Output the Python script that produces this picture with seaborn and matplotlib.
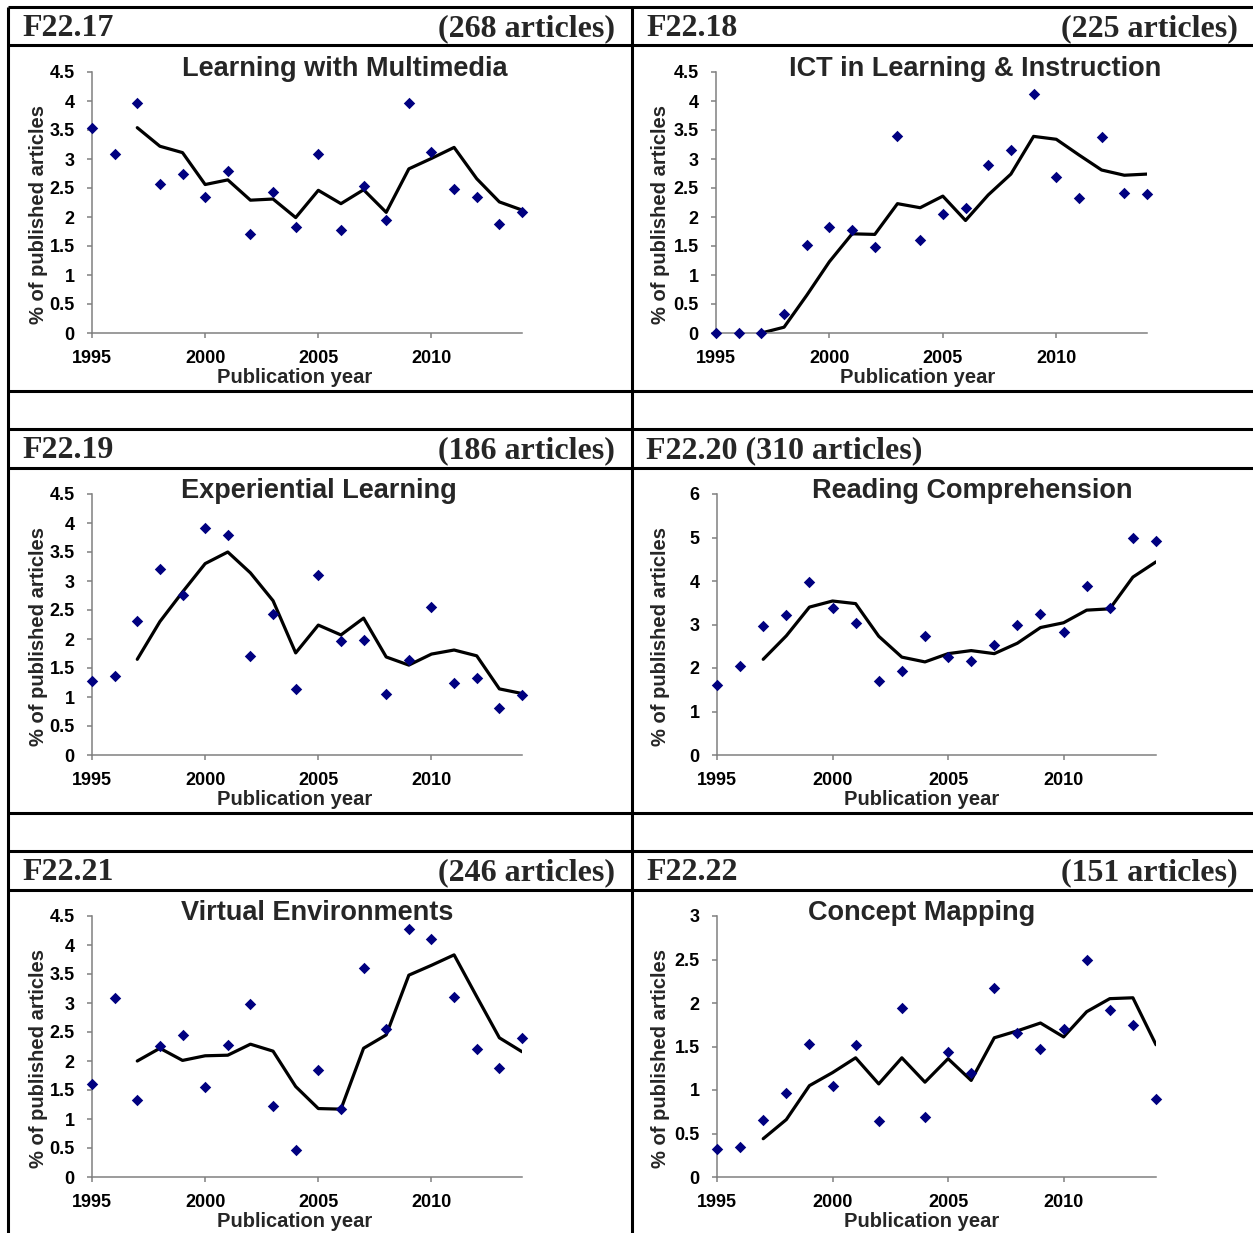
import matplotlib
matplotlib.use("Agg")
import matplotlib.pyplot as plt
from matplotlib.lines import Line2D
from matplotlib.ticker import FixedLocator
import pandas as pd
import seaborn as sns

# ---------------------------------------------------------------- data
years = list(range(1995, 2015))
trend_years = list(range(1997, 2015))

multimedia_pts = [3.53, 3.08, 3.97, 2.57, 2.75, 2.35, 2.79, 1.71, 2.43, 1.83,
                  3.09, 1.77, 2.54, 1.94, 3.97, 3.12, 2.48, 2.35, 1.88, 2.08]
multimedia_avg = [3.54, 3.22, 3.11, 2.56, 2.64, 2.29, 2.31, 1.99, 2.46,
                  2.23, 2.47, 2.08, 2.83, 3.01, 3.20, 2.66, 2.26, 2.12]

ict_pts = [0.00, 0.00, 0.00, 0.32, 1.52, 1.82, 1.78, 1.49, 3.40, 1.60,
           2.06, 2.16, 2.89, 3.15, 4.12, 2.69, 2.32, 3.38, 2.42, 2.39]
ict_avg = [0.00, 0.10, 0.65, 1.23, 1.71, 1.70, 2.23, 2.16, 2.36,
           1.94, 2.38, 2.74, 3.39, 3.34, 3.07, 2.81, 2.72, 2.74]

experiential_pts = [1.28, 1.36, 2.31, 3.21, 2.76, 3.92, 3.80, 1.71, 2.43, 1.14,
                    3.10, 1.97, 1.99, 1.05, 1.63, 2.55, 1.24, 1.33, 0.81, 1.04]
experiential_avg = [1.65, 2.30, 2.81, 3.30, 3.50, 3.14, 2.66, 1.76, 2.24,
                    2.07, 2.36, 1.69, 1.55, 1.74, 1.81, 1.71, 1.14, 1.06]

reading_pts = [1.60, 2.04, 2.97, 3.21, 3.98, 3.39, 3.03, 1.71, 1.94, 2.74,
               2.26, 2.17, 2.52, 3.00, 3.24, 2.83, 3.88, 3.38, 4.98, 4.92]
reading_avg = [2.20, 2.74, 3.40, 3.54, 3.48, 2.73, 2.25, 2.14, 2.33,
               2.40, 2.33, 2.57, 2.93, 3.04, 3.33, 3.36, 4.09, 4.44]

virtual_pts = [1.61, 3.08, 1.32, 2.26, 2.45, 1.56, 2.28, 2.99, 1.22, 0.46,
               1.85, 1.18, 3.61, 2.56, 4.27, 4.11, 3.11, 2.21, 1.88, 2.39]
virtual_avg = [2.00, 2.22, 2.01, 2.09, 2.10, 2.29, 2.17, 1.56, 1.18,
               1.17, 2.22, 2.45, 3.48, 3.65, 3.83, 3.11, 2.40, 2.16]

concept_pts = [0.32, 0.34, 0.66, 0.96, 1.53, 1.05, 1.52, 0.64, 1.94, 0.69,
               1.44, 1.19, 2.17, 1.65, 1.47, 1.70, 2.49, 1.92, 1.75, 0.90]
concept_avg = [0.44, 0.66, 1.05, 1.20, 1.37, 1.07, 1.37, 1.09, 1.36,
               1.11, 1.60, 1.68, 1.77, 1.61, 1.90, 2.05, 2.06, 1.52]

codes = ["F22.17", "F22.18", "F22.19", "F22.20", "F22.21", "F22.22"]
counts = ["(268 articles)", "(225 articles)", "(186 articles)",
          "(310 articles)", "(246 articles)", "(151 articles)"]
titles = ["Learning with Multimedia", "ICT in Learning & Instruction",
          "Experiential Learning", "Reading Comprehension",
          "Virtual Environments", "Concept Mapping"]
point_series = [multimedia_pts, ict_pts, experiential_pts,
                reading_pts, virtual_pts, concept_pts]
trend_series = [multimedia_avg, ict_avg, experiential_avg,
                reading_avg, virtual_avg, concept_avg]
y_max = [4.5, 4.5, 4.5, 6, 4.5, 3]
y_step = [0.5, 0.5, 0.5, 1, 0.5, 0.5]
x_ticks = [1995, 2000, 2005, 2010]
x_label = "Publication year"
y_label = "% of published articles"

# ---------------------------------------------------------------- style
sns.set_theme(style="ticks")
plt.rcParams["font.family"] = ["Liberation Sans", "DejaVu Sans"]

W, H = 1253, 1233
fig = plt.figure(figsize=(W / 100, H / 100), dpi=100)
fig.patch.set_facecolor("white")


def fx(px):
    return px / W


def fy(py):
    return 1 - py / H


AXIS_GREY = "#808080"
MARKER_BLUE = "#000080"

# plot-area geometry in pixels: (left, right, top, bottom)
boxes = [(92, 522, 72, 333), (716, 1147, 72, 333),
         (92, 522, 494, 755), (717, 1156, 494, 755),
         (92, 522, 916, 1177), (717, 1156, 916, 1177)]
title_x = [0.588, 0.601, 0.528, 0.581, 0.523, 0.466]
header_y = [29, 29, 451, 451, 873, 873]

for i in range(6):
    left, right, top, bottom = boxes[i]
    ax = fig.add_axes([fx(left), fy(bottom), (right - left) / W, (bottom - top) / H])
    ax.set_facecolor("white")

    pts = pd.DataFrame({"year": years, "share": point_series[i]})
    avg = pd.DataFrame({"year": trend_years, "share": trend_series[i]})

    sns.lineplot(data=avg, x="year", y="share", ax=ax, color="black",
                 linewidth=2.3, zorder=2)
    sns.scatterplot(data=pts, x="year", y="share", ax=ax, marker="D", s=34,
                    color=MARKER_BLUE, linewidth=0, zorder=3, clip_on=False)

    ax.set_xlim(1995, 2014)
    ax.set_ylim(0, y_max[i])
    n = int(round(y_max[i] / y_step[i]))
    yt = [k * y_step[i] for k in range(n + 1)]
    ax.yaxis.set_major_locator(FixedLocator(yt))
    ax.set_yticklabels([f"{v:g}" for v in yt])
    ax.xaxis.set_major_locator(FixedLocator(x_ticks))
    ax.set_xticklabels([str(v) for v in x_ticks])

    for side in ("top", "right"):
        ax.spines[side].set_visible(False)
    for side in ("left", "bottom"):
        ax.spines[side].set_color(AXIS_GREY)
        ax.spines[side].set_linewidth(1.1)
    ax.tick_params(axis="both", direction="out", length=3.5, width=1.1,
                   color=AXIS_GREY, labelsize=13, labelcolor="black")
    ax.tick_params(axis="y", pad=9)
    ax.tick_params(axis="x", pad=9)
    for lab in ax.get_xticklabels() + ax.get_yticklabels():
        lab.set_fontweight("bold")

    ax.set_xlabel(x_label, fontsize=14.5, fontweight="bold")
    ax.set_ylabel(y_label, fontsize=14.5, fontweight="bold")
    ax.xaxis.set_label_coords(0.472 if left < 600 else 0.467, -0.135)
    ax.yaxis.set_label_coords(-0.102 if left < 600 else -0.107, 0.455)

    ax.text(title_x[i], 0.985, titles[i], transform=ax.transAxes,
            ha="center", va="baseline", fontsize=19.5, fontweight="bold")

    # table header cell
    hx = 22 if left < 600 else 646
    if codes[i] == "F22.20":
        fig.text(fx(hx), fy(header_y[i]), f"{codes[i]} {counts[i]}",
                 family="Liberation Serif", fontweight="bold", fontsize=23,
                 ha="left", va="center")
    else:
        fig.text(fx(hx), fy(header_y[i]), codes[i],
                 family="Liberation Serif", fontweight="bold", fontsize=23,
                 ha="left", va="center")
        rx = 615 if left < 600 else 1238
        fig.text(fx(rx), fy(header_y[i]), counts[i],
                 family="Liberation Serif", fontweight="bold", fontsize=23,
                 ha="right", va="center")

# ---------------------------------------------------------------- table rules
for y in (7, 45, 391, 429, 468, 813, 851, 890):
    fig.add_artist(Line2D([fx(8), fx(W)], [fy(y), fy(y)], color="black",
                          linewidth=2.2, solid_capstyle="butt"))
for x in (8, 632):
    fig.add_artist(Line2D([fx(x), fx(x)], [fy(7), fy(H)], color="black",
                          linewidth=2.2, solid_capstyle="butt"))

fig.savefig("out.png", dpi=100, facecolor="white")
